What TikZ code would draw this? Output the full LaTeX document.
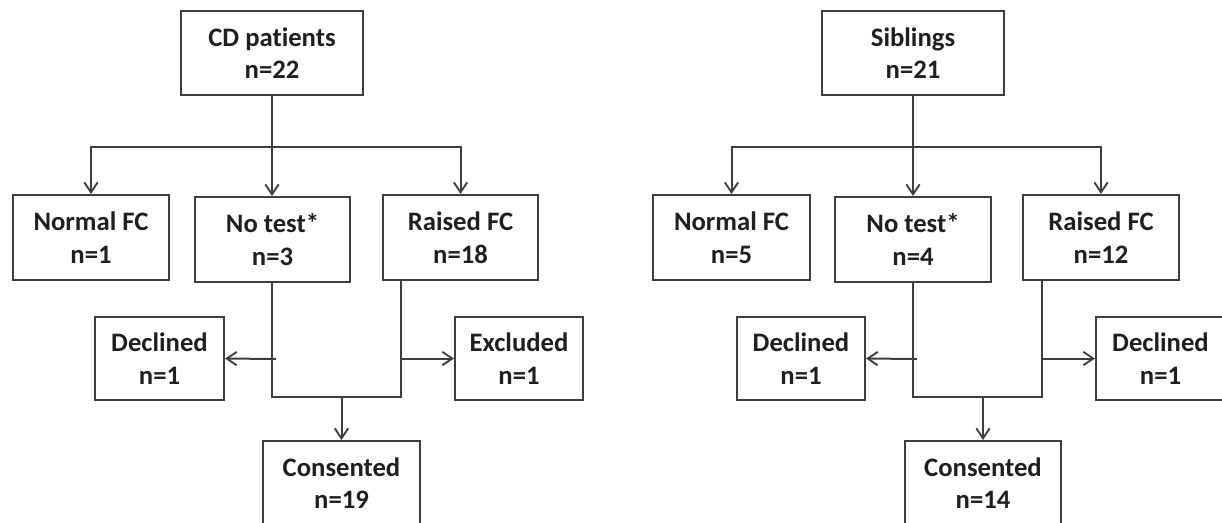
\documentclass[tikz,border=0pt]{standalone}
\usepackage{fontspec}
\setmainfont[Ligatures=NoCommon]{Carlito}
\usetikzlibrary{arrows.meta}
\definecolor{linegray}{RGB}{62,62,62}
\begin{document}
\begin{tikzpicture}[x=0.75pt,y=-0.75pt,
  box/.style={draw=linegray, line width=1.5pt, fill=white, inner sep=0pt,
    align=center, font=\fontsize{20}{24.5}\selectfont\bfseries, text=black!88},
  sz/.style 2 args={minimum width=#1*0.75pt, minimum height=#2*0.75pt},
  conn/.style={draw=linegray, line width=1.5pt},
  arr/.style={conn, -{Straight Barb[length=7.5pt,width=10pt,line width=1.4pt]}}]
\useasboundingbox (0,0) rectangle (1222,522);
\clip (0,0) rectangle (1222,522);
\fill[white] (0,0) rectangle (1222,522);

% ---------- left panel ----------
\node[box, sz={182}{84}] (cd)   at (272,53)    {CD patients\\n=22};
\node[box, sz={156}{85}] (nf1)  at (91,237.5)  {Normal FC\\n=1};
\node[box, sz={155}{85}] (nt1)  at (272.5,239.5) {No test*\\n=3};
\node[box, sz={155}{85}] (rf1)  at (460.5,237.5) {Raised FC\\n=18};
\node[box, sz={129}{83}] (dec1) at (159.5,358.5) {Declined\\n=1};
\node[box, sz={128}{83}] (exc1) at (519,358.5) {Excluded\\n=1};
\node[box, sz={157}{84}] (con1) at (341.5,483) {Consented\\n=19};

\coordinate (b1) at (272,147);
\coordinate (m1) at (272,397);
\coordinate (r1) at (401,397);
\coordinate (a1) at (276,359);

\draw[conn] (cd.south -| b1) -- (b1);
\draw[arr] (b1) -| (nf1.north);
\draw[arr] (b1) -| (rf1.north);
\draw[arr] (b1) -- (b1 |- nt1.north);
\draw[conn] (m1 |- nt1.south) -- (m1) -- (r1) -- (r1 |- rf1.south);
\draw[arr] (a1) -- (dec1.east);
\draw[arr] (r1 |- exc1.west) -- (exc1.west);
\draw[arr] (con1.north |- m1) -- (con1.north);

% ---------- right panel ----------
\node[box, sz={182}{84}] (sib)  at (913,53)    {Siblings\\n=21};
\node[box, sz={157}{85}] (nf2)  at (731.5,237.5) {Normal FC\\n=5};
\node[box, sz={156}{85}] (nt2)  at (913,239.5) {No test*\\n=4};
\node[box, sz={156}{85}] (rf2)  at (1101,237.5) {Raised FC\\n=12};
\node[box, sz={128}{83}] (dec2) at (801,358.5) {Declined\\n=1};
\node[box, sz={129}{83}] (dec3) at (1160.5,358.5) {Declined\\n=1};
\node[box, sz={156}{84}] (con2) at (983,483) {Consented\\n=14};

\coordinate (b2) at (913,147);
\coordinate (m2) at (913,397);
\coordinate (r2) at (1042,397);
\coordinate (a2) at (917,359);

\draw[conn] (sib.south -| b2) -- (b2);
\draw[arr] (b2) -| (nf2.north);
\draw[arr] (b2) -| (rf2.north);
\draw[arr] (b2) -- (b2 |- nt2.north);
\draw[conn] (m2 |- nt2.south) -- (m2) -- (r2) -- (r2 |- rf2.south);
\draw[arr] (a2) -- (dec2.east);
\draw[arr] (r2 |- dec3.west) -- (dec3.west);
\draw[arr] (con2.north |- m2) -- (con2.north);
\end{tikzpicture}
\end{document}
